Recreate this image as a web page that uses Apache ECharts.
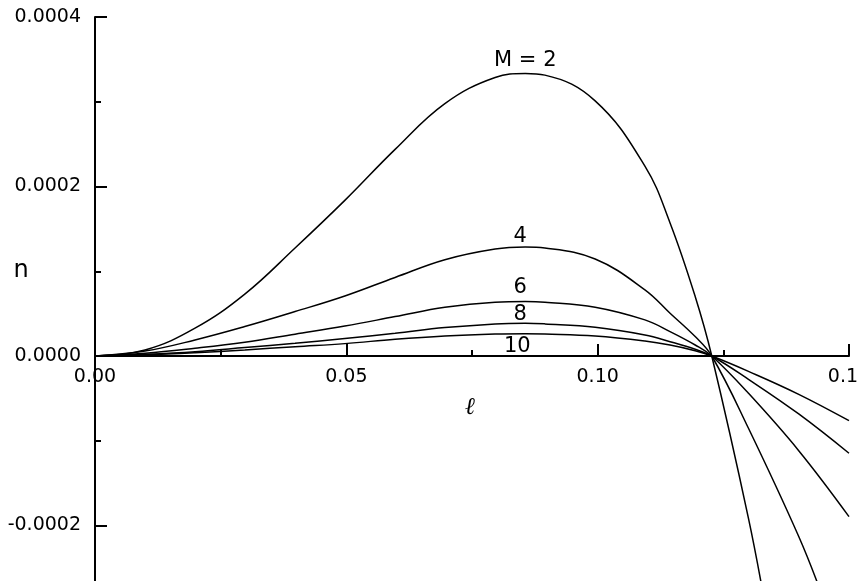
<!DOCTYPE html>
<html>
<head>
<meta charset="utf-8">
<script src="https://cdn.jsdelivr.net/npm/echarts@6/dist/echarts.min.js"></script>
<style>
html,body{margin:0;padding:0;background:#fff;}
#chart{width:858px;height:581px;}
</style>
</head>
<body>
<div id="chart"></div>
<script>
// abscissa (ℓ) of the read points, shared by all curves up to 0.13
const ell = [0, 0.00995, 0.0199, 0.0298, 0.0398, 0.0497, 0.0597, 0.0696, 0.0796, 0.0856, 0.0895, 0.0995, 0.1094, 0.1144, 0.1194, 0.1227, 0.13];

// tails beyond 0.13
const ellTail2 = [0.1335];
const ellTail4 = [0.14, 0.1445];
const ellTail = [0.14, 0.15];

const nM2 = [0, 0.0000071, 0.0000328, 0.000073, 0.0001274, 0.0001836, 0.0002438, 0.0002978, 0.0003286, 0.0003333, 0.0003314, 0.000301, 0.000224, 0.000157, 0.0000702, 0, -0.0001916, -0.0003];
const nM4 = [0, 0.0000059, 0.0000189, 0.0000347, 0.0000524, 0.0000708, 0.0000927, 0.0001136, 0.0001262, 0.0001286, 0.0001274, 0.0001144, 0.0000781, 0.0000505, 0.0000229, 0, -0.0000853, -0.000213, -0.00028];
const nM6 = [0, 0.0000032, 0.0000091, 0.0000162, 0.0000257, 0.0000353, 0.0000465, 0.0000576, 0.0000635, 0.0000643, 0.0000635, 0.0000576, 0.0000426, 0.0000288, 0.000013, 0, -0.000044, -0.0001117, -0.0001895];
const nM8 = [0, 0.000002, 0.0000051, 0.0000099, 0.000015, 0.0000207, 0.0000268, 0.0000335, 0.0000379, 0.0000387, 0.0000379, 0.000034, 0.0000249, 0.0000169, 0.0000079, 0, -0.0000275, -0.0000684, -0.0001148];
const nM10 = [0, 0.0000014, 0.0000039, 0.0000071, 0.000011, 0.0000146, 0.0000198, 0.0000237, 0.000026, 0.0000264, 0.000026, 0.0000237, 0.0000178, 0.000013, 0.0000063, 0, -0.0000181, -0.0000452, -0.0000763];

// curve labels and their data positions
const curveLabels = ['M = 2', '4', '6', '8', '10'];
const labelEll = [0.0856, 0.0846, 0.0846, 0.0846, 0.084];
const labelN = [0.000349, 0.000141, 0.0000802, 0.0000484, 0.0000115];

// axis ticks
const xTickValues = [0, 0.05, 0.10, 0.15];
const xTicks = {min: 0, max: 0.15, interval: 0.05};
const yTicks = {min: -0.0004, max: 0.0004, interval: 0.0002};
const xAxisTitle = 'ℓ';
const yAxisTitle = 'n';

function pairs(xs, ys) { return xs.map((x, i) => [x, ys[i]]); }

const curves = [
  pairs(ell.concat(ellTail2), nM2),
  pairs(ell.concat(ellTail4), nM4),
  pairs(ell.concat(ellTail), nM6),
  pairs(ell.concat(ellTail), nM8),
  pairs(ell.concat(ellTail), nM10)
];

const FONT = 'DejaVu Sans';
const chart = echarts.init(document.getElementById('chart'), null, {renderer: 'canvas'});

const series = curves.map(d => ({
  type: 'line',
  data: d,
  smooth: 0.4,
  showSymbol: false,
  symbol: 'none',
  clip: true,
  lineStyle: {color: '#000', width: 1.5},
  silent: true
}));

series.push({
  type: 'scatter',
  symbolSize: 0,
  silent: true,
  data: curveLabels.map((t, i) => [labelEll[i], labelN[i], t]),
  label: {
    show: true,
    position: 'inside',
    formatter: p => p.value[2],
    color: '#000',
    opacity: 1,
    fontFamily: FONT,
    fontSize: 21
  }
});

chart.setOption({
  animation: false,
  backgroundColor: '#fff',
  grid: {left: 95, right: 9, top: 17, bottom: -114, containLabel: false, outerBoundsMode: 'none'},
  xAxis: {
    type: 'value',
    min: xTicks.min, max: xTicks.max, interval: xTicks.interval,
    axisLine: {onZero: true, lineStyle: {color: '#000', width: 2}},
    axisTick: {inside: true, length: 12, lineStyle: {color: '#000', width: 2}},
    minorTick: {show: true, splitNumber: 2, length: 6, lineStyle: {color: '#000', width: 2}},
    splitLine: {show: false},
    axisLabel: {show: false}
  },
  yAxis: {
    type: 'value',
    min: yTicks.min, max: yTicks.max, interval: yTicks.interval,
    axisLine: {onZero: false, lineStyle: {color: '#000', width: 2}},
    axisTick: {inside: true, length: 12, lineStyle: {color: '#000', width: 2}},
    minorTick: {show: true, splitNumber: 2, length: 6, lineStyle: {color: '#000', width: 2}},
    splitLine: {show: false},
    axisLabel: {
      formatter: v => v.toFixed(4),
      color: '#000', fontFamily: FONT, fontSize: 19, margin: 14
    }
  },
  series: series
});

// x tick labels and axis titles placed through the axis scales (x axis sits at n = 0)
const zeroY = chart.convertToPixel({yAxisIndex: 0}, 0);
const graphics = xTickValues.map(v => ({
  type: 'text',
  x: chart.convertToPixel({xAxisIndex: 0}, v),
  y: zeroY + 12,
  style: {text: v.toFixed(2), fill: '#000', font: '19px "DejaVu Sans"', align: 'center', verticalAlign: 'top'}
}));
graphics.push({
  type: 'text',
  x: chart.convertToPixel({xAxisIndex: 0}, (xTicks.min + xTicks.max) / 2) - 2,
  y: zeroY + 52,
  style: {text: xAxisTitle, fill: '#000', font: 'italic 24px "DejaVu Serif"', align: 'center', verticalAlign: 'middle'}
});
graphics.push({
  type: 'text',
  x: 21,
  y: chart.convertToPixel({yAxisIndex: 0}, 0.0001),
  style: {text: yAxisTitle, fill: '#000', font: '24px "DejaVu Sans"', align: 'center', verticalAlign: 'middle'}
});
chart.setOption({graphic: graphics});
</script>
</body>
</html>
